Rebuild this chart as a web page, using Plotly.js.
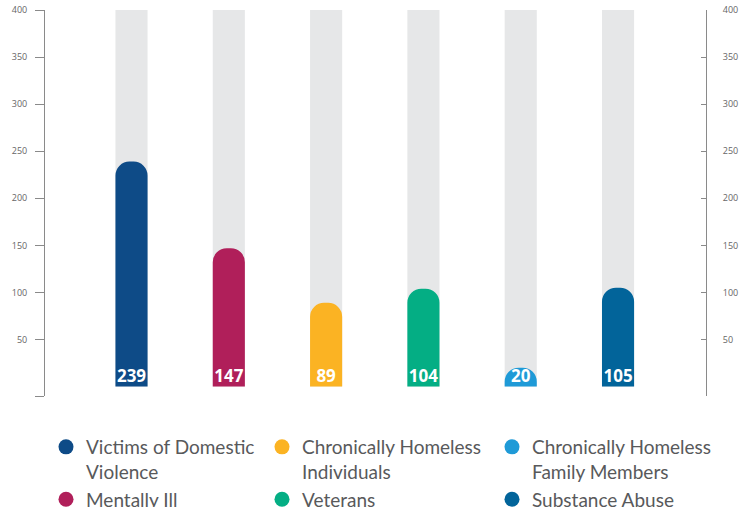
<!DOCTYPE html>
<html><head><meta charset="utf-8">
<script src="https://cdn.plot.ly/plotly-3.0.1.min.js"></script>
<style>html,body{margin:0;padding:0;background:#fff}#chart{width:751px;height:507px}</style>
</head><body><div id="chart"></div>
<script>
const categories = ["Victims of Domestic Violence","Mentally Ill","Chronically Homeless Individuals","Veterans","Chronically Homeless Family Members","Substance Abuse"];
const values = [239, 147, 89, 104, 20, 105];
const maxValues = [400, 400, 400, 400, 400, 400];
const colors = ["#0e4b87","#b01f5a","#fbb323","#04ae84","#1f9ad7","#02649a"];
const legendLabels = ["Victims of Domestic<br>Violence","Mentally Ill","Chronically Homeless<br>Individuals","Veterans","Chronically Homeless<br>Family Members","Substance Abuse"];
// legend columns: (Victims, Mentally Ill), (CH Individuals, Veterans), (CH Family Members, Substance Abuse)
const legendColumns = [[0, 1], [2, 3], [4, 5]];
const tickVals = [-10, 50, 100, 150, 200, 250, 300, 350, 400];
const tickText = ["", "50", "100", "150", "200", "250", "300", "350", "400"];

const traces = [
  // grey background bars on the main subplot
  {type:'bar', x:categories, y:maxValues, xaxis:'x', yaxis:'y', width:0.33, marker:{color:'#e6e7e8'}, hoverinfo:'skip', showlegend:false},
  // coloured value bars on the overlaid subplot (drawn above the grey bars)
  {type:'bar', x:categories, y:values, xaxis:'x2', yaxis:'y2', width:0.33, marker:{color:colors, cornerradius:14},
   hoverinfo:'skip', showlegend:false},
  // value labels sitting on the bar bases
  {type:'scatter', mode:'text', x:categories, y:values.map(() => 0), xaxis:'x2', yaxis:'y2',
   text:values.map(String), textposition:'top center', cliponaxis:false,
   textfont:{color:'#ffffff', size:17, family:'Open Sans', weight:700}, hoverinfo:'skip', showlegend:false}
];
const legendNames = ["legend", "legend2", "legend3"];
legendColumns.forEach((cats, ci) => cats.forEach(i => traces.push({
  type:'scatter', mode:'markers', x:[null], y:[null], name:legendLabels[i], legend:legendNames[ci],
  marker:{color:colors[i], size:15, symbol:'circle'}, showlegend:true, hoverinfo:'skip'
})));

const yCommon = {range:[-10,400], tickvals:tickVals, ticktext:tickText, showgrid:false, zeroline:false,
  showline:true, linecolor:'#8a8a8a', linewidth:1, tickcolor:'#8a8a8a', tickwidth:1,
  tickfont:{family:'Open Sans', size:9, color:'#666'}, fixedrange:true};
const xCommon = {type:'category', range:[-0.889, 5.904], showgrid:false, zeroline:false, showline:false, showticklabels:false, ticks:'', fixedrange:true};

const legendBase = {orientation:'v', xref:'paper', yref:'container', y:1-428/507, xanchor:'left', yanchor:'top',
    valign:'top', itemwidth:30, tracegroupgap:0, bgcolor:'rgba(0,0,0,0)',
    font:{family:'Lato', size:19, color:'#58595b'}};

const layout = {
  width:751, height:507,
  margin:{l:45, r:45, t:10, b:111},
  paper_bgcolor:'#fff', plot_bgcolor:'#fff',
  barmode:'overlay',
  showlegend:true,
  xaxis:Object.assign({}, xCommon),
  xaxis2:Object.assign({}, xCommon, {overlaying:'x', anchor:'y2'}),
  yaxis:Object.assign({}, yCommon, {side:'left', ticks:'outside', ticklen:9, ticklabelstandoff:6, anchor:'x'}),
  yaxis2:Object.assign({}, yCommon, {overlaying:'y', side:'right', anchor:'x2', ticks:'inside', ticklen:5, ticklabelstandoff:14}),
  legend:Object.assign({}, legendBase, {x:(46-45)/661}),
  legend2:Object.assign({}, legendBase, {x:(262-45)/661}),
  legend3:Object.assign({}, legendBase, {x:(492-45)/661})
};
Plotly.newPlot('chart', traces, layout, {displayModeBar:false, staticPlot:true});
</script>
</body></html>
